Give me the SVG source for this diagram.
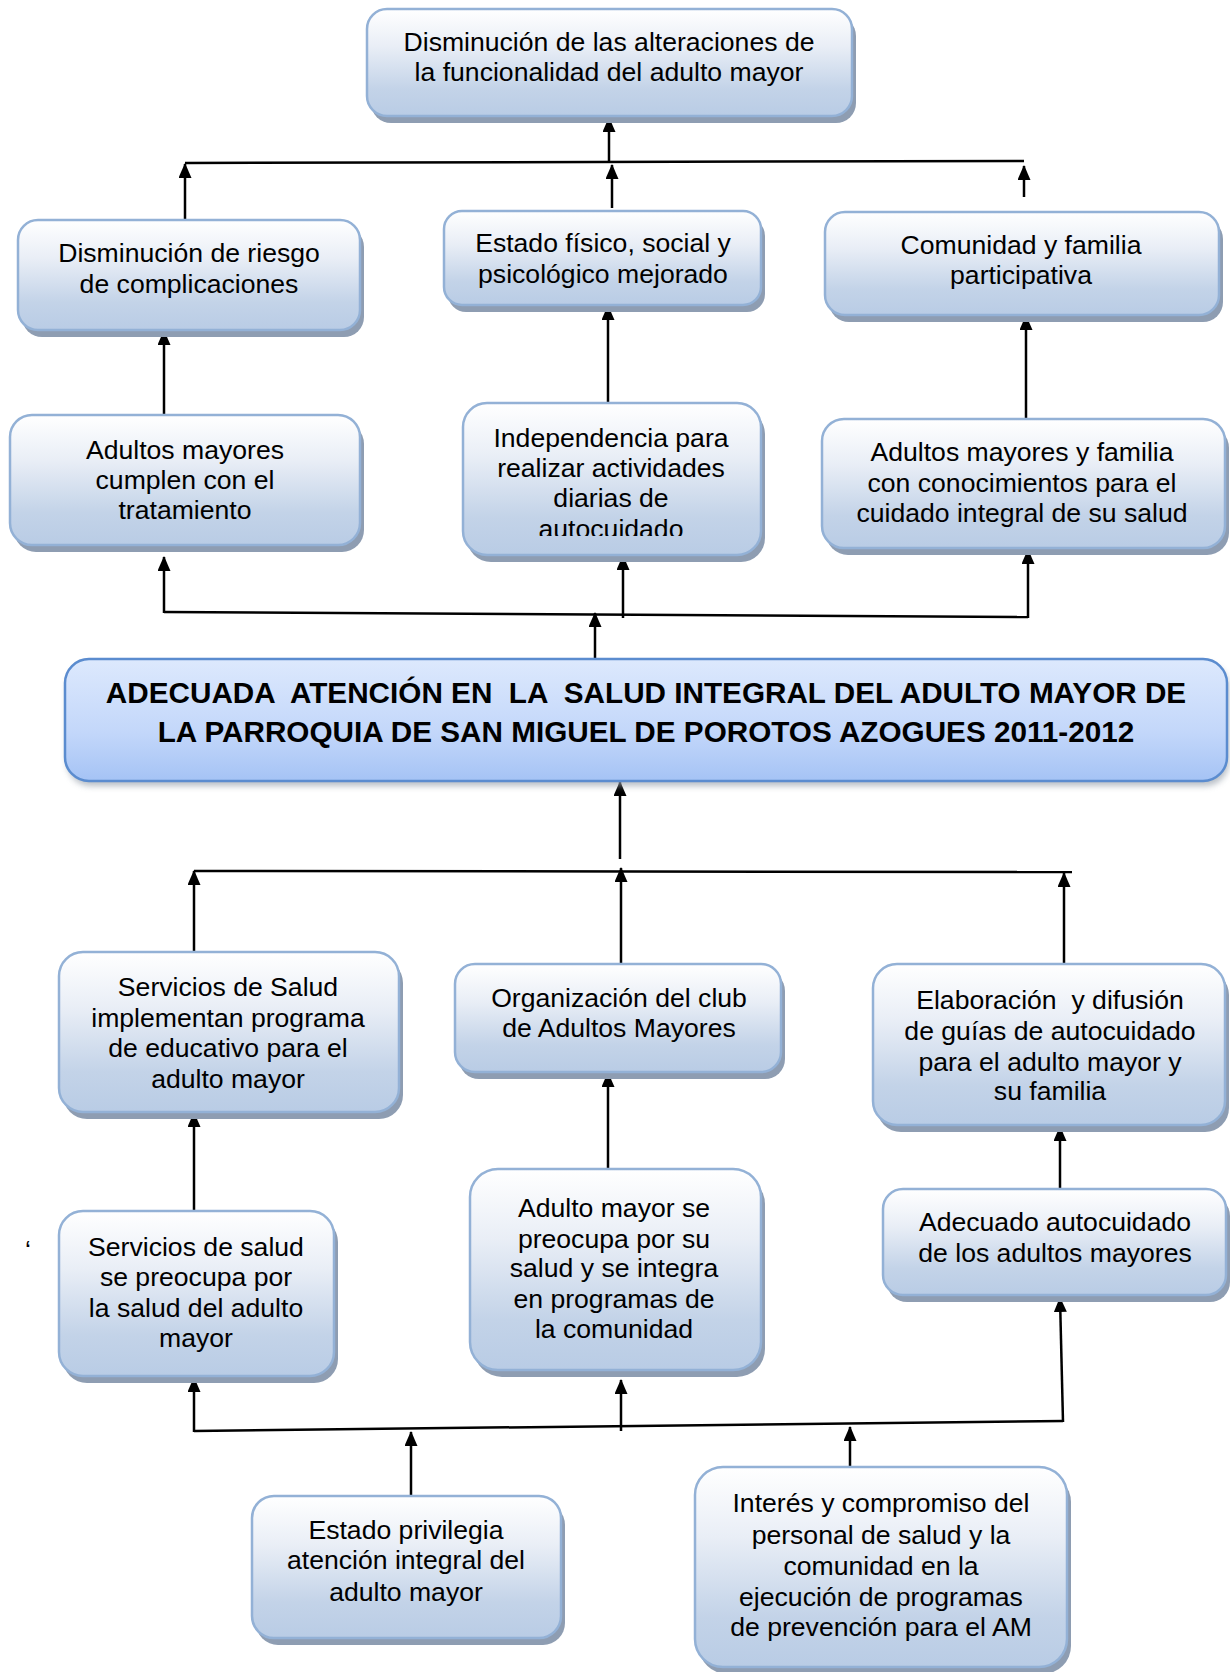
<svg xmlns="http://www.w3.org/2000/svg" width="1230" height="1672" viewBox="0 0 1230 1672">
<style>
.box{fill:url(#g);stroke:#93b1d6;stroke-width:2.5}
.sh{fill:#8e9db2}
.t{font-family:"Liberation Sans",Arial,sans-serif;font-size:26.6px;text-anchor:middle;fill:#000}
.tb{font-family:"Liberation Sans",Arial,sans-serif;font-size:29.7px;font-weight:bold;text-anchor:middle;fill:#000}
.c{fill:none;stroke:#000;stroke-width:2.5}
.a{marker-end:url(#ah)}
</style>
<defs>
<linearGradient id="g" x1="0" y1="0" x2="0" y2="1">
<stop offset="0" stop-color="#ffffff"/>
<stop offset="0.35" stop-color="#e9eef6"/>
<stop offset="0.75" stop-color="#c3d3e8"/>
<stop offset="1" stop-color="#b9cce5"/>
</linearGradient>
<linearGradient id="gm" x1="0" y1="0" x2="0" y2="1">
<stop offset="0" stop-color="#dde9fd"/>
<stop offset="0.6" stop-color="#c3d7fa"/>
<stop offset="1" stop-color="#a5c3f5"/>
</linearGradient>
<filter id="blur" x="-5%" y="-20%" width="110%" height="150%">
<feGaussianBlur stdDeviation="3"/>
</filter>
<marker id="ah" markerUnits="userSpaceOnUse" markerWidth="15" markerHeight="13" viewBox="0 0 15 13" refX="14" refY="6.5" orient="auto">
<path d="M0,0 L15,6.5 L0,13 z" fill="#000"/>
</marker>
<clipPath id="clipInd"><rect x="463" y="403" width="298" height="133"/></clipPath>
</defs>

<g id="connectors">
<path class="c a" d="M609,163 L609,118"/>
<path class="c" d="M185,163 L1024,161"/>
<path class="c a" d="M185,219 L185,164"/>
<path class="c a" d="M612,208 L612,165"/>
<path class="c a" d="M1024,197 L1024,166"/>
<path class="c a" d="M164,415 L164,331"/>
<path class="c a" d="M608,403 L608,306"/>
<path class="c a" d="M1026,418 L1026,316"/>
<path class="c" d="M164,612 L1028,617"/>
<path class="c a" d="M164,613 L164,557"/>
<path class="c a" d="M623,618 L623,556"/>
<path class="c a" d="M1028,618 L1028,550"/>
<path class="c a" d="M595,658 L595,613"/>
<path class="c a" d="M620,859 L620,782"/>
<path class="c" d="M194,871 L1072,872"/>
<path class="c a" d="M194,953 L194,871"/>
<path class="c a" d="M621,963 L621,868"/>
<path class="c a" d="M1064,964 L1064,873"/>
<path class="c a" d="M194,1212 L194,1113"/>
<path class="c a" d="M608,1169 L608,1073"/>
<path class="c a" d="M1060,1189 L1060,1127"/>
<path class="c" d="M194,1431 L1063,1421"/>
<path class="c a" d="M194,1432 L194,1378"/>
<path class="c a" d="M1063,1422 L1060,1298"/>
<path class="c a" d="M621,1431 L621,1380"/>
<path class="c a" d="M411,1496 L411,1432"/>
<path class="c a" d="M850,1468 L850,1427"/>
</g>

<g id="n-top">
<rect class="sh" x="371" y="16" width="485" height="107" rx="20"/>
<rect class="box" x="367" y="9" width="485" height="107" rx="20"/>
<text class="t" x="609" y="51">Disminución de las alteraciones de</text>
<text class="t" x="609" y="81">la funcionalidad del adulto mayor</text>
</g>

<g id="n-riesgo">
<rect class="sh" x="22" y="227" width="342" height="110" rx="20"/>
<rect class="box" x="18" y="220" width="342" height="110" rx="20"/>
<text class="t" x="189" y="262">Disminución de riesgo</text>
<text class="t" x="189" y="293">de complicaciones</text>
</g>

<g id="n-estado">
<rect class="sh" x="448" y="218" width="317" height="94" rx="18"/>
<rect class="box" x="444" y="211" width="317" height="94" rx="18"/>
<text class="t" x="603" y="252">Estado físico, social y</text>
<text class="t" x="603" y="283">psicológico mejorado</text>
</g>

<g id="n-comunidad">
<rect class="sh" x="829" y="219" width="394" height="103" rx="20"/>
<rect class="box" x="825" y="212" width="394" height="103" rx="20"/>
<text class="t" x="1021" y="254">Comunidad y familia</text>
<text class="t" x="1021" y="284">participativa</text>
</g>

<g id="n-cumplen">
<rect class="sh" x="14" y="422" width="350" height="130" rx="22"/>
<rect class="box" x="10" y="415" width="350" height="130" rx="22"/>
<text class="t" x="185" y="459">Adultos mayores</text>
<text class="t" x="185" y="489">cumplen con el</text>
<text class="t" x="185" y="519">tratamiento</text>
</g>

<g id="n-independencia">
<rect class="sh" x="467" y="410" width="298" height="152" rx="24"/>
<rect class="box" x="463" y="403" width="298" height="152" rx="24"/>
<g clip-path="url(#clipInd)">
<text class="t" x="611" y="447">Independencia para</text>
<text class="t" x="611" y="477">realizar actividades</text>
<text class="t" x="611" y="507">diarias de</text>
<text class="t" x="611" y="538">autocuidado</text>
</g>
</g>

<g id="n-conocimientos">
<rect class="sh" x="826" y="426" width="403" height="129" rx="22"/>
<rect class="box" x="822" y="419" width="403" height="129" rx="22"/>
<text class="t" x="1022" y="461">Adultos mayores y familia</text>
<text class="t" x="1022" y="492">con conocimientos para el</text>
<text class="t" x="1022" y="522">cuidado integral de su salud</text>
</g>

<g id="n-main">
<rect x="67" y="664" width="1162" height="122" rx="24" fill="#9aa3ad" opacity="0.7" filter="url(#blur)"/>
<rect x="65" y="659" width="1162" height="122" rx="24" fill="url(#gm)" stroke="#5b8ccf" stroke-width="2.5"/>
<text class="tb" x="646" y="703" xml:space="preserve">ADECUADA  ATENCIÓN EN  LA  SALUD INTEGRAL DEL ADULTO MAYOR DE</text>
<text class="tb" x="646" y="742">LA PARROQUIA DE SAN MIGUEL DE POROTOS AZOGUES 2011-2012</text>
</g>

<g id="n-implementan">
<rect class="sh" x="63" y="959" width="340" height="160" rx="24"/>
<rect class="box" x="59" y="952" width="340" height="160" rx="24"/>
<text class="t" x="228" y="996">Servicios de Salud</text>
<text class="t" x="228" y="1027">implementan programa</text>
<text class="t" x="228" y="1057">de educativo para el</text>
<text class="t" x="228" y="1088">adulto mayor</text>
</g>

<g id="n-club">
<rect class="sh" x="459" y="971" width="326" height="108" rx="20"/>
<rect class="box" x="455" y="964" width="326" height="108" rx="20"/>
<text class="t" x="619" y="1007">Organización del club</text>
<text class="t" x="619" y="1037">de Adultos Mayores</text>
</g>

<g id="n-guias">
<rect class="sh" x="877" y="971" width="352" height="161" rx="24"/>
<rect class="box" x="873" y="964" width="352" height="161" rx="24"/>
<text class="t" x="1050" y="1009" xml:space="preserve">Elaboración  y difusión</text>
<text class="t" x="1050" y="1040">de guías de autocuidado</text>
<text class="t" x="1050" y="1071">para el adulto mayor y</text>
<text class="t" x="1050" y="1100">su familia</text>
</g>

<text class="t" x="28" y="1259">‘</text>

<g id="n-preocupa">
<rect class="sh" x="63" y="1218" width="275" height="165" rx="24"/>
<rect class="box" x="59" y="1211" width="275" height="165" rx="24"/>
<text class="t" x="196" y="1256">Servicios de salud</text>
<text class="t" x="196" y="1286">se preocupa por</text>
<text class="t" x="196" y="1317">la salud del adulto</text>
<text class="t" x="196" y="1347">mayor</text>
</g>

<g id="n-integra">
<rect class="sh" x="474" y="1176" width="291" height="201" rx="28"/>
<rect class="box" x="470" y="1169" width="291" height="201" rx="28"/>
<text class="t" x="614" y="1217">Adulto mayor se</text>
<text class="t" x="614" y="1248">preocupa por su</text>
<text class="t" x="614" y="1277">salud y se integra</text>
<text class="t" x="614" y="1308">en programas de</text>
<text class="t" x="614" y="1338">la comunidad</text>
</g>

<g id="n-autocuidado">
<rect class="sh" x="887" y="1196" width="343" height="106" rx="20"/>
<rect class="box" x="883" y="1189" width="343" height="106" rx="20"/>
<text class="t" x="1055" y="1231">Adecuado autocuidado</text>
<text class="t" x="1055" y="1262">de los adultos mayores</text>
</g>

<g id="n-privilegia">
<rect class="sh" x="256" y="1503" width="309" height="142" rx="22"/>
<rect class="box" x="252" y="1496" width="309" height="142" rx="22"/>
<text class="t" x="406" y="1539">Estado privilegia</text>
<text class="t" x="406" y="1569">atención integral del</text>
<text class="t" x="406" y="1601">adulto mayor</text>
</g>

<g id="n-interes">
<rect class="sh" x="699" y="1474" width="372" height="200" rx="28"/>
<rect class="box" x="695" y="1467" width="372" height="200" rx="28"/>
<text class="t" x="881" y="1512">Interés y compromiso del</text>
<text class="t" x="881" y="1544">personal de salud y la</text>
<text class="t" x="881" y="1575">comunidad en la</text>
<text class="t" x="881" y="1606">ejecución de programas</text>
<text class="t" x="881" y="1636">de prevención para el AM</text>
</g>
</svg>
